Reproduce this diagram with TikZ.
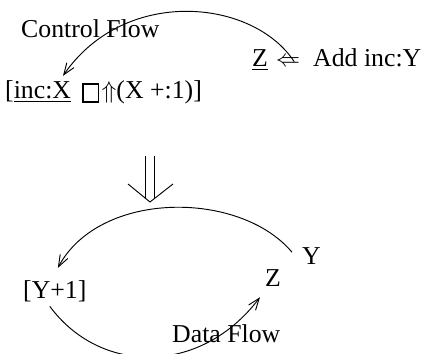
\documentclass[tikz,border=0pt]{standalone}
\usepackage{amssymb}
\usepackage{fontspec}
\setmainfont{Liberation Serif}
\usetikzlibrary{arrows.meta,positioning}

\begin{document}
\begin{tikzpicture}[
  font=\fontsize{22}{26}\selectfont,
  txt/.style={inner sep=0pt, anchor=base west},
  flow/.style={-{Straight Barb[length=3.5mm,width=2.6mm]}, line width=0.8pt}
]

  \useasboundingbox (0,0) rectangle (12.69,-10.62);

  % Upper term
  \node[txt] (ctrl) at (0.63,-1.11) {Control Flow};
  \node[txt] (incx) at (0.15,-2.94) {[\underline{inc:X}};
  \node[draw, line width=1.2pt, minimum width=0.47cm, minimum height=0.54cm, inner sep=0pt,
    anchor=south west] (boxop) at ([xshift=0.33cm,yshift=-0.14cm]incx.base east) {};
  \node[txt] (rest) at ([xshift=0.06cm]boxop.east |- incx.base) {$\Uparrow$(X +:1)]};

  \node[txt] (zl) at (7.56,-1.98) {\underline{Z}};
  \node[txt, base right=0.22cm of zl] (larr) {$\Leftarrow$};
  \node[txt] (addy) at (9.39,-1.98) {Add inc:Y};

  % Control flow arc
  \draw[flow] ([xshift=-0.18cm,yshift=-0.15cm]larr.north east)
    .. controls +(-1.23,1.89) and +(1.86,2.7) .. ([xshift=-0.25cm,yshift=0.12cm]incx.north east);

  % Big double arrow down
  \draw[line width=0.8pt] (4.35,-4.68) -- (4.35,-5.97) (4.62,-4.68) -- (4.62,-5.97);
  \draw[line width=0.8pt] (3.84,-5.52) -- (4.5,-6.06) -- (5.19,-5.52);

  % Lower term
  \node[txt] (y1) at (0.69,-8.94) {[Y+1]};
  \node[txt] (zb) at (7.95,-8.58) {Z};
  \node[txt] (yb) at (9.06,-7.92) {Y};
  \node[txt] (df) at (5.16,-10.26) {Data Flow};

  % Arcs between them
  \draw[flow] ([xshift=-0.3cm,yshift=0.1cm]yb.west)
    .. controls +(-1.56,1.86) and +(1.26,2.34) .. ([xshift=0.09cm,yshift=0.36cm]y1.north);
  \draw[flow] ([xshift=-0.15cm,yshift=-0.14cm]y1.south)
    .. controls +(1.5,-2.04) and +(-1.8,-2.37) .. ([xshift=-0.15cm,yshift=-0.33cm]zb.south west);

\end{tikzpicture}
\end{document}
